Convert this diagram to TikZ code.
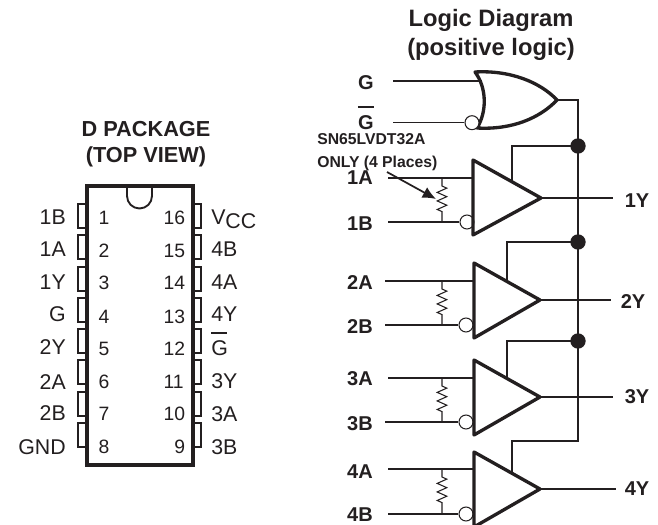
\documentclass[tikz,border=0pt]{standalone}
\usepackage{fontspec}
\setmainfont{Liberation Sans}
\usepackage{xcolor}
\usetikzlibrary{decorations.pathmorphing}
\usetikzlibrary{arrows.meta}
\definecolor{ink}{HTML}{231F20}

\begin{document}
\begin{tikzpicture}[x=0.75pt,y=-0.75pt,
  wire/.style={draw=ink,line width=0.9pt},
  gate/.style={draw=ink,line width=2.5pt,line join=round},
  body/.style={draw=ink,line width=2.7pt,line cap=round},
  pinbox/.style={draw=ink,line width=1.4pt},
  res/.style={draw=ink,line width=0.8pt,decorate,decoration={zigzag,segment length=6.4pt,amplitude=3.6pt,pre=lineto,pre length=6pt,post=lineto,post length=6pt}},
  bubble/.style={circle,draw=ink,line width=0.8pt,fill=white,inner sep=0pt,minimum size=10.5pt},
  dot/.style={circle,fill=ink,inner sep=0pt,minimum size=11.5pt},
  pinlabel/.style={text=ink,inner sep=0pt,font=\fontsize{16}{18}\selectfont},
  pinnum/.style={text=ink,inner sep=0pt,font=\fontsize{14.5}{16}\selectfont},
  sig/.style={text=ink,inner sep=0pt,font=\fontsize{15}{17}\bfseries\selectfont},
  heading/.style={text=ink,inner sep=0pt,anchor=base,font=\fontsize{16.3}{18}\bfseries\selectfont},
  bigheading/.style={text=ink,inner sep=0pt,anchor=base,font=\fontsize{17.8}{20}\bfseries\selectfont},
  note/.style={text=ink,inner sep=0pt,anchor=base west,font=\fontsize{11.8}{14}\bfseries\selectfont}]
\useasboundingbox (0,0) rectangle (658,525);

% package
\node[heading] (pkgtitle) at (146,136) {D PACKAGE};
\node[heading] (pkgview) at (146,162) {(TOP VIEW)};
\draw[body] (87,186) rectangle (193,465);
\draw[pinbox] (127,186) -- (127,196) arc (180:0:12.5) -- (152,186);

\draw[pinbox] (87,204) -- (78,204) -- (78,228) -- (87,228);
\draw[pinbox] (87,235) -- (78,235) -- (78,259) -- (87,259);
\draw[pinbox] (87,267) -- (78,267) -- (78,291) -- (87,291);
\draw[pinbox] (87,298) -- (78,298) -- (78,322) -- (87,322);
\draw[pinbox] (87,329) -- (78,329) -- (78,353) -- (87,353);
\draw[pinbox] (87,360) -- (78,360) -- (78,384) -- (87,384);
\draw[pinbox] (87,392) -- (78,392) -- (78,416) -- (87,416);
\draw[pinbox] (87,423) -- (78,423) -- (78,447) -- (87,447);
\draw[pinbox] (193,204) -- (201,204) -- (201,228) -- (193,228);
\draw[pinbox] (193,235) -- (201,235) -- (201,259) -- (193,259);
\draw[pinbox] (193,267) -- (201,267) -- (201,291) -- (193,291);
\draw[pinbox] (193,298) -- (201,298) -- (201,322) -- (193,322);
\draw[pinbox] (193,329) -- (201,329) -- (201,353) -- (193,353);
\draw[pinbox] (193,360) -- (201,360) -- (201,384) -- (193,384);
\draw[pinbox] (193,392) -- (201,392) -- (201,416) -- (193,416);
\draw[pinbox] (193,423) -- (201,423) -- (201,447) -- (193,447);

\node[pinlabel,anchor=east] (pin1) at (66,216.7) {1B};
\node[pinlabel,anchor=east] (pin2) at (66,249) {1A};
\node[pinlabel,anchor=east] (pin3) at (66,281.7) {1Y};
\node[pinlabel,anchor=east] (pin4) at (66,314) {G};
\node[pinlabel,anchor=east] (pin5) at (66,347.3) {2Y};
\node[pinlabel,anchor=east] (pin6) at (66,381.7) {2A};
\node[pinlabel,anchor=east] (pin7) at (66,413.3) {2B};
\node[pinlabel,anchor=east] (pin8) at (66,446.7) {GND};
\node[pinlabel,anchor=base west] (pin16) at (211,224) {V\lower3.7pt\hbox{CC}};
\node[pinlabel,anchor=west] (pin15) at (211,249) {4B};
\node[pinlabel,anchor=west] (pin14) at (211,282.3) {4A};
\node[pinlabel,anchor=west] (pin13) at (211,314.3) {4Y};
\node[pinlabel,anchor=west] (pin12) at (211,348.3) {G};
\draw[draw=ink,line width=1.9pt] ([yshift=5.6pt]pin12.north west) -- ([xshift=-0.6pt,yshift=5.6pt]pin12.north east);
\node[pinlabel,anchor=west] (pin11) at (211,381) {3Y};
\node[pinlabel,anchor=west] (pin10) at (211,414) {3A};
\node[pinlabel,anchor=west] (pin9) at (211,446.7) {3B};

\node[pinnum] (num1) at (104,218.3) {1};
\node[pinnum] (num2) at (104,250.7) {2};
\node[pinnum] (num3) at (104,283.3) {3};
\node[pinnum] (num4) at (104,316.7) {4};
\node[pinnum] (num5) at (104,349) {5};
\node[pinnum] (num6) at (104,382.3) {6};
\node[pinnum] (num7) at (104,414) {7};
\node[pinnum] (num8) at (104,446.7) {8};
\node[pinnum,anchor=east] (num16) at (185.5,218.3) {16};
\node[pinnum,anchor=east] (num15) at (185.5,250.7) {15};
\node[pinnum,anchor=east] (num14) at (185.5,283.3) {14};
\node[pinnum,anchor=east] (num13) at (185.5,316.7) {13};
\node[pinnum,anchor=east] (num12) at (185.5,349) {12};
\node[pinnum,anchor=east] (num11) at (184,382.3) {11};
\node[pinnum,anchor=east] (num10) at (185.5,414) {10};
\node[pinnum,anchor=east] (num9) at (185.5,446.7) {9};

% logic diagram
\node[bigheading] (logtitle) at (491,26.7) {Logic Diagram};
\node[bigheading] (logsub) at (491,55) {(positive logic)};
\node[note] (note1) at (317,144) {SN65LVDT32A};
\node[note] (note2) at (317,167.5) {ONLY (4 Places)};

% enable gate
\coordinate (orG) at (393,81);
\coordinate (orGin) at (482,81);
\coordinate (orNin) at (393,122.7);
\coordinate (orOut) at (557,100);
\coordinate (busEnd) at (578,441);
\coordinate (tap4) at (512,473);
\node[sig] (G) at (366,83) {G};
\node[sig] (Gbar) at (366,122.7) {G};
\draw[draw=ink,line width=1.7pt] ([yshift=6.4pt]Gbar.north west) -- ([yshift=6.4pt]Gbar.north east);
\draw[wire] (orG) -- (orGin);
\draw[wire] (orOut) -| (busEnd) -| (tap4);
\draw[gate] (475,72) .. controls (510,70) and (540,82) .. (orOut) .. controls (540,118) and (512,130) .. (477,128) .. controls (487,112) and (487,88) .. (475,72) -- cycle;
\node[bubble] (orB) at (472,122.7) {};
\draw[wire] (orNin) -- (orB);

\node[dot] (dot1) at (578,146) {};
\node[dot] (dot2) at (578,242) {};
\node[dot] (dot3) at (578,341) {};
\coordinate (tap1) at (512,182);
\coordinate (tap2) at (507,281.5);
\coordinate (tap3) at (507,378.5);
\draw[wire] (dot1.center) -| (tap1);
\draw[wire] (dot2.center) -| (tap2);
\draw[wire] (dot3.center) -| (tap3);

% receiver 1
\node[sig] (1A) at (360,178) {1A};
\node[sig] (1B) at (360,224) {1B};
\node[sig] (1Y) at (637,201) {1Y};
\coordinate (in1A) at (388,178);
\coordinate (in1B) at (388,222);
\coordinate (end1A) at (473,178);
\coordinate (r1a) at (442,178);
\coordinate (r1b) at (442,222);
\coordinate (tip1) at (541,198);
\coordinate (out1) at (613,198);
\node[bubble] (b1) at (467,222) {};
\draw[wire] (in1A) -- (end1A);
\draw[wire] (in1B) -- (b1);
\draw[res] (r1a) -- (r1b);
\draw[wire] (tip1) -- (out1);
\draw[gate] (473,160) -- (tip1) -- (473,235) -- cycle;

% receiver 2
\node[sig] (2A) at (360,283) {2A};
\node[sig] (2B) at (360,327) {2B};
\node[sig] (2Y) at (633,302) {2Y};
\coordinate (in2A) at (385,281);
\coordinate (in2B) at (385,325);
\coordinate (end2A) at (474,281);
\coordinate (r2a) at (442,281);
\coordinate (r2b) at (442,325);
\coordinate (tip2) at (540,300);
\coordinate (out2) at (611,300);
\node[bubble] (b2) at (466,325) {};
\draw[wire] (in2A) -- (end2A);
\draw[wire] (in2B) -- (b2);
\draw[res] (r2a) -- (r2b);
\draw[wire] (tip2) -- (out2);
\draw[gate] (474,263) -- (tip2) -- (474,338) -- cycle;

% receiver 3
\node[sig] (3A) at (360,379) {3A};
\node[sig] (3B) at (360,424) {3B};
\node[sig] (3Y) at (637,397) {3Y};
\coordinate (in3A) at (388,378);
\coordinate (in3B) at (385,422);
\coordinate (end3A) at (474,378);
\coordinate (r3a) at (442,378);
\coordinate (r3b) at (442,422);
\coordinate (tip3) at (540,397);
\coordinate (out3) at (613,397);
\node[bubble] (b3) at (466,422) {};
\draw[wire] (in3A) -- (end3A);
\draw[wire] (in3B) -- (b3);
\draw[res] (r3a) -- (r3b);
\draw[wire] (tip3) -- (out3);
\draw[gate] (474,360) -- (tip3) -- (474,435) -- cycle;

% receiver 4
\node[sig] (4A) at (360,472) {4A};
\node[sig] (4B) at (360,515) {4B};
\node[sig] (4Y) at (637,489) {4Y};
\coordinate (in4A) at (388,469);
\coordinate (in4B) at (388,514);
\coordinate (end4A) at (474,469);
\coordinate (r4a) at (442,469);
\coordinate (r4b) at (442,514);
\coordinate (tip4) at (540,489);
\coordinate (out4) at (616,489);
\node[bubble] (b4) at (466,514) {};
\draw[wire] (in4A) -- (end4A);
\draw[wire] (in4B) -- (b4);
\draw[res] (r4a) -- (r4b);
\draw[wire] (tip4) -- (out4);
\draw[gate] (474,452) -- (tip4) -- (474,527) -- cycle;

% pointer to the resistor
\coordinate (arrowA) at (387,172);
\coordinate (arrowB) at (436,199);
\draw[wire,line width=1.3pt,-{Latex[length=10pt,width=9pt]}] (arrowA) -- (arrowB);
\end{tikzpicture}
\end{document}
